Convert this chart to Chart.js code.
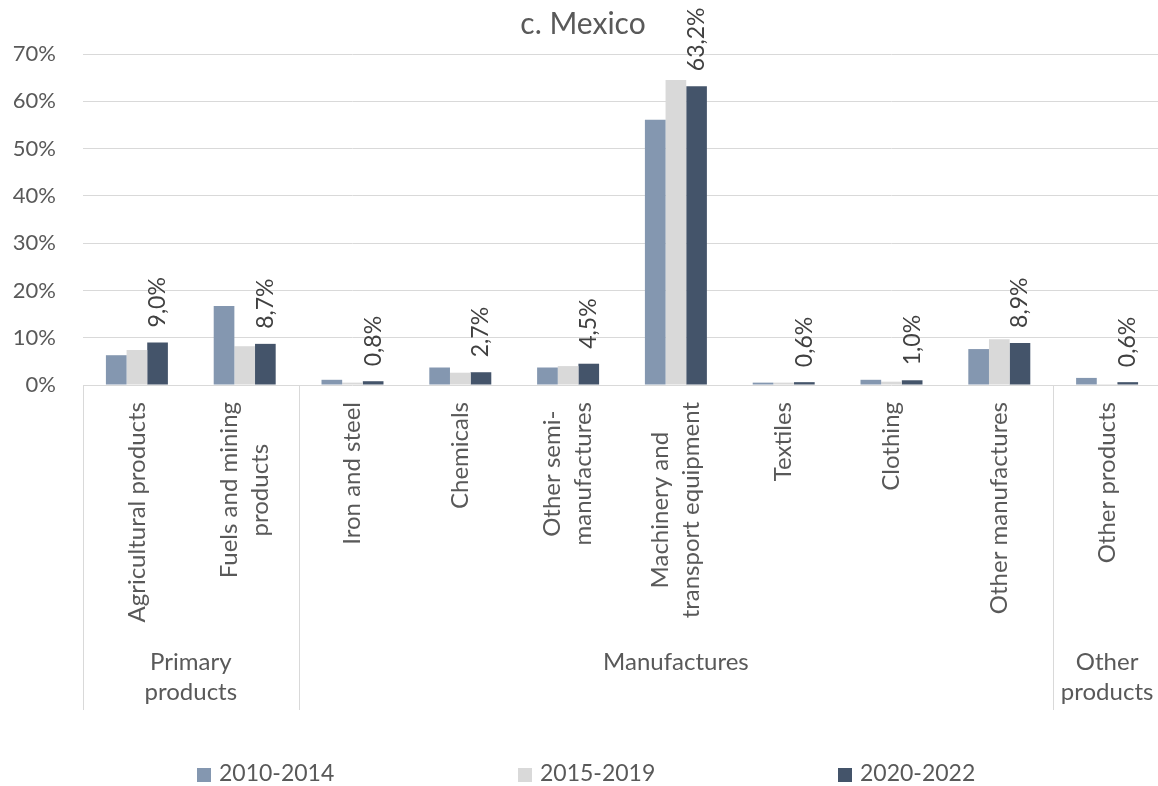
<!DOCTYPE html>
<html>
<head>
<meta charset="utf-8">
<title>c. Mexico</title>
<script src="https://cdn.jsdelivr.net/npm/chart.js@4.4.1/dist/chart.umd.min.js"></script>
<style>
  html, body { margin: 0; padding: 0; background: #fff; overflow: hidden; }
  #chart { display: block; }
</style>
</head>
<body>
<canvas id="chart" width="1170" height="786"></canvas>
<script>
// Export shares by product group, Mexico (%)
const categories = [
    ['Agricultural products'],
    ['Fuels and mining', 'products'],
    ['Iron and steel'],
    ['Chemicals'],
    ['Other semi-', 'manufactures'],
    ['Machinery and', 'transport equipment'],
    ['Textiles'],
    ['Clothing'],
    ['Other manufactures'],
    ['Other products']
];
const groupLabels = [['Primary', 'products'], ['Manufactures'], ['Other', 'products']];
const groupStart = [0, 2, 9];
const groupEnd = [1, 8, 9];

const seriesNames = ['2010-2014', '2015-2019', '2020-2022'];
const values2010 = [6.3, 16.7, 1.1, 3.7, 3.7, 56.1, 0.5, 1.1, 7.6, 1.5];
const values2015 = [7.4, 8.2, 0.5, 2.6, 4.0, 64.5, 0.5, 0.7, 9.7, 0.2];
const values2020 = [9.0, 8.7, 0.8, 2.7, 4.5, 63.2, 0.6, 1.0, 8.9, 0.6];
const yTicks = [0, 10, 20, 30, 40, 50, 60, 70];

const colors = ['#8497B0', '#D9D9D9', '#44546A'];
const FONT = 'Lato';
const TEXT = '#595959';

// Title, rotated category labels, group labels, separators, value labels, legend
const decorations = {
    id: 'decorations',
    afterDraw(chart) {
        const { ctx, chartArea, scales: { x } } = chart;
        const step = x.getPixelForValue(1) - x.getPixelForValue(0);
        ctx.save();

        // title
        ctx.fillStyle = TEXT;
        ctx.font = `30px ${FONT}`;
        ctx.textAlign = 'center';
        ctx.textBaseline = 'middle';
        ctx.fillText('c. Mexico', 583, 24);

        // separators between the product groups
        ctx.strokeStyle = '#D9D9D9';
        ctx.lineWidth = 1;
        const seps = groupStart.map(s => Math.round(x.getPixelForValue(s) - step / 2) + 0.5);
        seps.forEach(px => {
            ctx.beginPath();
            ctx.moveTo(px, chartArea.bottom);
            ctx.lineTo(px, 710);
            ctx.stroke();
        });

        // category labels, rotated
        ctx.font = `24px ${FONT}`;
        ctx.fillStyle = TEXT;
        const lineH = 31;
        categories.forEach((lines, i) => {
            const cx = x.getPixelForValue(i);
            const w = Math.max(...lines.map(l => ctx.measureText(l).width));
            lines.forEach((line, j) => {
                const lx = cx + (j - (lines.length - 1) / 2) * lineH;
                ctx.save();
                ctx.translate(lx, chartArea.bottom + 17 + w / 2);
                ctx.rotate(-Math.PI / 2);
                ctx.textAlign = 'center';
                ctx.textBaseline = 'middle';
                ctx.fillText(line, 0, 0);
                ctx.restore();
            });
        });

        // group labels
        ctx.textAlign = 'center';
        ctx.textBaseline = 'middle';
        groupLabels.forEach((lines, g) => {
            const left = x.getPixelForValue(groupStart[g]) - step / 2;
            const right = x.getPixelForValue(groupEnd[g]) + step / 2;
            const cx = (left + right) / 2;
            lines.forEach((line, j) => ctx.fillText(line, cx, 662 + j * 30));
        });

        // value labels on the latest period
        const meta = chart.getDatasetMeta(2);
        ctx.font = `23px ${FONT}`;
        ctx.fillStyle = '#404040';
        meta.data.forEach((bar, i) => {
            const txt = values2020[i].toFixed(1).replace('.', ',') + '%';
            ctx.save();
            ctx.translate(bar.x, bar.y - 15);
            ctx.rotate(-Math.PI / 2);
            ctx.textAlign = 'left';
            ctx.textBaseline = 'middle';
            ctx.fillText(txt, 0, 0);
            ctx.restore();
        });

        // legend
        const legendX = [197, 518, 838];
        ctx.font = `23px ${FONT}`;
        ctx.textAlign = 'left';
        ctx.textBaseline = 'middle';
        seriesNames.forEach((name, k) => {
            ctx.fillStyle = colors[k];
            ctx.fillRect(legendX[k], 768, 14, 14);
            ctx.fillStyle = TEXT;
            ctx.fillText(name, legendX[k] + 22, 774);
        });

        ctx.restore();
    }
};

const makeSet = (k, data) => ({
    label: seriesNames[k],
    data: data,
    backgroundColor: colors[k],
    borderWidth: 0,
    categoryPercentage: 0.575,
    barPercentage: 1.0
});

new Chart(document.getElementById('chart').getContext('2d'), {
    type: 'bar',
    data: {
        labels: categories.map(c => c.join(' ')),
        datasets: [makeSet(0, values2010), makeSet(1, values2015), makeSet(2, values2020)]
    },
    options: {
        responsive: false,
        animation: false,
        layout: { padding: { top: 54, right: 9, left: 0, bottom: 0 } },
        plugins: {
            legend: { display: false },
            title: { display: false },
            tooltip: { enabled: false }
        },
        scales: {
            x: {
                grid: { display: false },
                border: { display: false },
                ticks: { display: false },
                afterFit: s => { s.height = 401; }
            },
            y: {
                min: 0,
                max: 70,
                afterBuildTicks: s => { s.ticks = yTicks.map(v => ({ value: v })); },
                grid: { color: '#D9D9D9', drawTicks: false },
                border: { display: false },
                ticks: {
                    padding: 27,
                    color: TEXT,
                    font: { family: FONT, size: 22 },
                    callback: v => v + '%'
                },
                afterFit: s => { s.width = 83; }
            }
        }
    },
    plugins: [decorations]
});
</script>
</body>
</html>
